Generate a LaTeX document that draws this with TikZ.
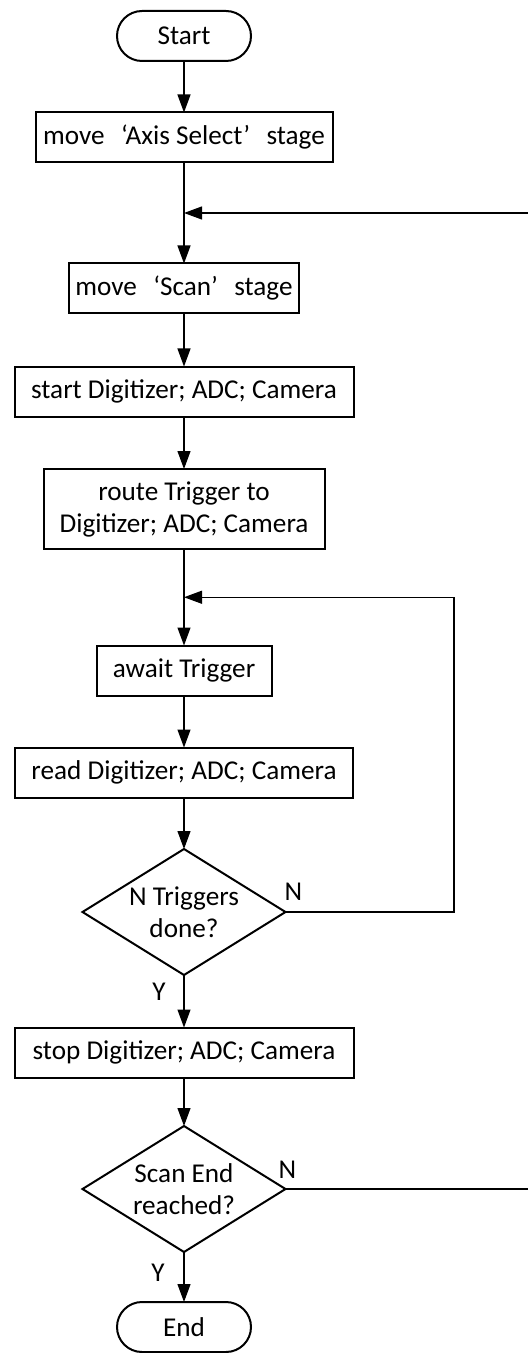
\documentclass[tikz,border=0pt]{standalone}
\usepackage{fontspec}
\setmainfont{Carlito}
\usetikzlibrary{shapes.geometric,arrows.meta,positioning,calc}

\newcommand{\qopen}{\hspace{0.6em}‘}
\newcommand{\qclose}{’\hspace{0.6em}}

\begin{document}
\begin{tikzpicture}[x=0.5pt,y=-0.5pt,node distance=26pt,
  every node/.style={font=\fontsize{13.6}{16}\selectfont},
  term/.style={draw,line width=1pt,rectangle,rounded corners=12.5pt,minimum width=67pt,minimum height=25pt,inner sep=0pt,outer sep=0pt},
  proc/.style={draw,line width=1pt,rectangle,minimum height=25pt,inner sep=0pt,outer sep=0pt,align=center},
  decide/.style={draw,line width=1pt,diamond,aspect=1.61,minimum width=101.5pt,minimum height=63pt,inner sep=0pt,outer sep=0pt,align=center},
  flow/.style={line width=0.6pt,-{Triangle[length=9pt,width=6.5pt]}}]
\useasboundingbox (0,0) rectangle (527,1353);

\node[term] (start) at (184,36) {Start};
\node[proc,minimum width=148.5pt,below=25.75pt of start] (axis) {move\qopen Axis Select\qclose stage};
\node[proc,minimum width=115pt,below=50.5pt of axis] (scan) {move\qopen Scan\qclose stage};
\node[proc,minimum width=169.5pt,below=26.5pt of scan] (startdig) {start Digitizer; ADC; Camera};
\node[proc,minimum width=140.5pt,minimum height=40pt,below=26.25pt of startdig] (route) {route Trigger to\\Digitizer; ADC; Camera};
\node[proc,minimum width=87.5pt,below=48.25pt of route] (await) {await Trigger};
\node[proc,minimum width=169pt,below=of await] (read) {read Digitizer; ADC; Camera};
\node[decide,below=25.75pt of read] (trig) {N Triggers\\done?};
\node[proc,minimum width=169.5pt,below=26.25pt of trig] (stop) {stop Digitizer; ADC; Camera};
\node[decide,below=24.25pt of stop] (scanend) {Scan End\\reached?};
\node[term,below=25pt of scanend] (end) {End};

% loop joins on the main line
\coordinate (joinA) at ($(axis.south)!0.5!(scan.north)$);
\coordinate (joinB) at ($(route.south)!0.5!(await.north)$);
\coordinate (rightA) at (529,0);
\coordinate (rightB) at (454,0);

\draw[flow] (start) -- (axis);
\draw[flow] (axis) -- (scan);
\draw[flow] (scan) -- (startdig);
\draw[flow] (startdig) -- (route);
\draw[flow] (route) -- (await);
\draw[flow] (await) -- (read);
\draw[flow] (read) -- (trig);
\draw[flow] (trig) -- (stop);
\draw[flow] (stop) -- (scanend);
\draw[flow] (scanend) -- (end);
\draw[flow] (trig.east) -- (trig.east -| rightB) |- (joinB);
\draw[flow] (scanend.east) -- (scanend.east -| rightA) |- (joinA);

\node (trigN) at ([xshift=4pt,yshift=10pt]trig.east) {N};
\node (trigY) at ([xshift=-12.5pt,yshift=-8.5pt]trig.south) {Y};
\node (scanN) at ([xshift=1pt,yshift=9.5pt]scanend.east) {N};
\node (scanY) at ([xshift=-13pt,yshift=-10.5pt]scanend.south) {Y};
\end{tikzpicture}
\end{document}
